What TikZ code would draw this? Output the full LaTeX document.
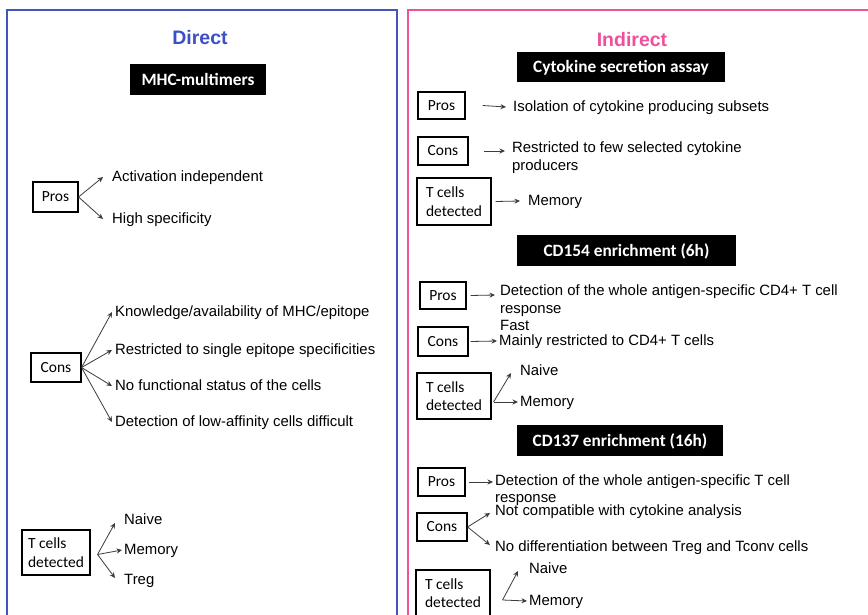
\documentclass[tikz,border=0pt]{standalone}
\usepackage{fontspec}
\setmainfont{Liberation Sans}
\newfontfamily\carlito{Carlito}
\usetikzlibrary{arrows.meta}
\definecolor{frameblue}{RGB}{68,84,190}
\definecolor{framepink}{RGB}{236,84,150}
\definecolor{titleblue}{RGB}{60,78,200}
\definecolor{titlepink}{RGB}{240,80,155}
\definecolor{arrowgray}{RGB}{60,60,60}
\begin{document}
\begin{tikzpicture}[x=1pt,y=-1pt,
  txt/.style={anchor=west,inner sep=0pt,text height=11pt,text depth=2pt,font=\fontsize{14.9}{18}\selectfont},
  mtxt/.style={anchor=north west,inner sep=0pt,align=left,font=\fontsize{14.9}{18}\selectfont},
  bx/.style={draw,line width=1.1pt,inner sep=0pt,align=left,font=\carlito\fontsize{15.5}{18.5}\selectfont},
  hdr/.style={fill=black,inner sep=0pt,text=white,text height=11.5pt,text depth=0pt,font=\carlito\bfseries\fontsize{17.3}{20}\selectfont},
  ttl/.style={inner sep=0pt,font=\bfseries\fontsize{19.5}{22}\selectfont},
  arr/.style={draw=arrowgray,line width=0.8pt,-{Stealth[length=5.5pt,width=5pt]}}
]
\clip (0,0) rectangle (868,615);
\fill[white] (0,0) rectangle (868,615);
% frames
\draw[frameblue,line width=2.5pt] (7,10) rectangle (397,640);
\draw[framepink,line width=2.5pt] (408,10) rectangle (900,640);

% ---------- Direct ----------
\node[ttl,text=titleblue] (direct) at (200,38) {Direct};
\node[hdr,minimum width=136pt,minimum height=31pt] (mhc) at (198,79.5) {MHC-multimers};

\node[bx,minimum width=45pt,minimum height=30pt] (lpros) at (55.5,197) {Pros};
\node[txt] (lp1) at (112,177) {Activation independent};
\node[txt] (lp2) at (112,219) {High specificity};
\draw[arr] (lpros.east) -- ([xshift=-9pt]lp1.west);
\draw[arr] (lpros.east) -- ([xshift=-9pt]lp2.west);

\node[bx,minimum width=50pt,minimum height=29pt] (lcons) at (56,367.5) {Cons};
\node[txt] (lc1) at (115,312) {Knowledge/availability of MHC/epitope};
\node[txt] (lc2) at (115,350) {Restricted to single epitope specificities};
\node[txt] (lc3) at (115,386) {No functional status of the cells};
\node[txt] (lc4) at (115,422) {Detection of low-affinity cells difficult};
\foreach \t in {lc1,lc2,lc3,lc4}{\draw[arr] (lcons.east) -- ([xshift=-3pt]\t.west);}

\node[bx,minimum width=68pt,minimum height=45pt] (ltc) at (56,552.5) {T cells\\detected};
\node[txt] (ln) at (124,520) {Naive};
\node[txt] (lm) at (124,550) {Memory};
\node[txt] (lt) at (124,580) {Treg};
\coordinate (ltcs) at ([xshift=7pt,yshift=-2pt]ltc.east);
\draw[arr] (ltcs) -- ([xshift=-9pt,yshift=-3pt]ln.west);
\draw[arr] (ltcs) -- ([xshift=-2pt]lm.west);
\draw[arr] (ltcs) -- ([xshift=-9pt,yshift=2pt]lt.west);

% ---------- Indirect ----------
\node[ttl,text=titlepink] (indirect) at (632,40) {Indirect};
\node[hdr,minimum width=208pt,minimum height=30pt] (cyto) at (621,67) {Cytokine secretion assay};

\node[bx,minimum width=47pt,minimum height=27pt] (rp1) at (441.5,105.5) {Pros};
\node[txt] (rp1t) at (513,107) {Isolation of cytokine producing subsets};
\draw[arr] ([xshift=17pt]rp1.east) -- ([xshift=-7pt]rp1t.west);

\node[bx,minimum width=50pt,minimum height=28pt] (rc1) at (443,151) {Cons};
\node[mtxt] (rc1t) at (512,141.5) {Restricted to few selected cytokine\\producers};
\draw[arr] ([xshift=15pt]rc1.east) -- ([xshift=-7pt,yshift=-9.5pt]rc1t.north west);

\node[bx,minimum width=74pt,minimum height=47pt] (rt1) at (454,201.5) {T cells\\detected};
\node[txt] (rm1) at (528,201) {Memory};
\draw[arr] ([xshift=4pt]rt1.east) -- ([xshift=-8pt]rm1.west);

\node[hdr,minimum width=219pt,minimum height=31pt] (cd154) at (626.5,250.5) {CD154 enrichment (6h)};

\node[bx,minimum width=46pt,minimum height=27pt] (rp2) at (443,295.5) {Pros};
\node[mtxt,font=\fontsize{14.9}{17.5}\selectfont] (rp2t) at (500,285) {Detection of the whole antigen-specific CD4+ T cell\\response\\Fast};
\draw[arr] ([xshift=4pt]rp2.east) -- ([xshift=-5pt,yshift=-10pt]rp2t.north west);

\node[bx,minimum width=50pt,minimum height=29pt] (rc2) at (443,341.5) {Cons};
\node[txt] (rc2t) at (499,341) {Mainly restricted to CD4+ T cells};
\draw[arr] ([xshift=2pt]rc2.east) -- ([xshift=-2pt]rc2t.west);

\node[bx,minimum width=74pt,minimum height=46pt] (rt2) at (454,396) {T cells\\detected};
\node[txt] (rn2) at (520,371) {Naive};
\node[txt] (rm2) at (520,402) {Memory};
\coordinate (rt2s) at ([xshift=2pt,yshift=-6pt]rt2.east);
\draw[arr] (rt2s) -- ([xshift=-9pt,yshift=-2pt]rn2.west);
\draw[arr] (rt2s) -- ([xshift=-2pt]rm2.west);

\node[hdr,minimum width=206pt,minimum height=31pt] (cd137) at (620,440.5) {CD137 enrichment (16h)};

\node[bx,minimum width=47pt,minimum height=28pt] (rp3) at (441.5,482) {Pros};
\node[mtxt,font=\fontsize{14.9}{17}\selectfont] (rp3t) at (495,474.5) {Detection of the whole antigen-specific T cell\\response};
\draw[arr] ([xshift=3pt]rp3.east) -- ([xshift=-2pt,yshift=-7.5pt]rp3t.north west);

\node[bx,minimum width=50pt,minimum height=28pt] (rc3) at (442,527) {Cons};
\node[txt] (rc3a) at (495,511) {Not compatible with cytokine analysis};
\node[txt] (rc3b) at (495,547) {No differentiation between Treg and Tconv cells};
\draw[arr] (rc3.east) -- ([xshift=-5pt,yshift=-2pt]rc3a.west);
\draw[arr] (rc3.east) -- ([xshift=-5pt,yshift=2pt]rc3b.west);

\node[bx,minimum width=74pt,minimum height=46pt] (rt3) at (453,593) {T cells\\detected};
\node[txt] (rn3) at (529,569) {Naive};
\node[txt] (rm3) at (529,601) {Memory};
\coordinate (rt3s) at ([xshift=12pt,yshift=-7pt]rt3.east);
\draw[arr] (rt3s) -- ([xshift=-11pt,yshift=-2pt]rn3.west);
\draw[arr] (rt3s) -- ([xshift=-2pt]rm3.west);
\end{tikzpicture}
\end{document}
